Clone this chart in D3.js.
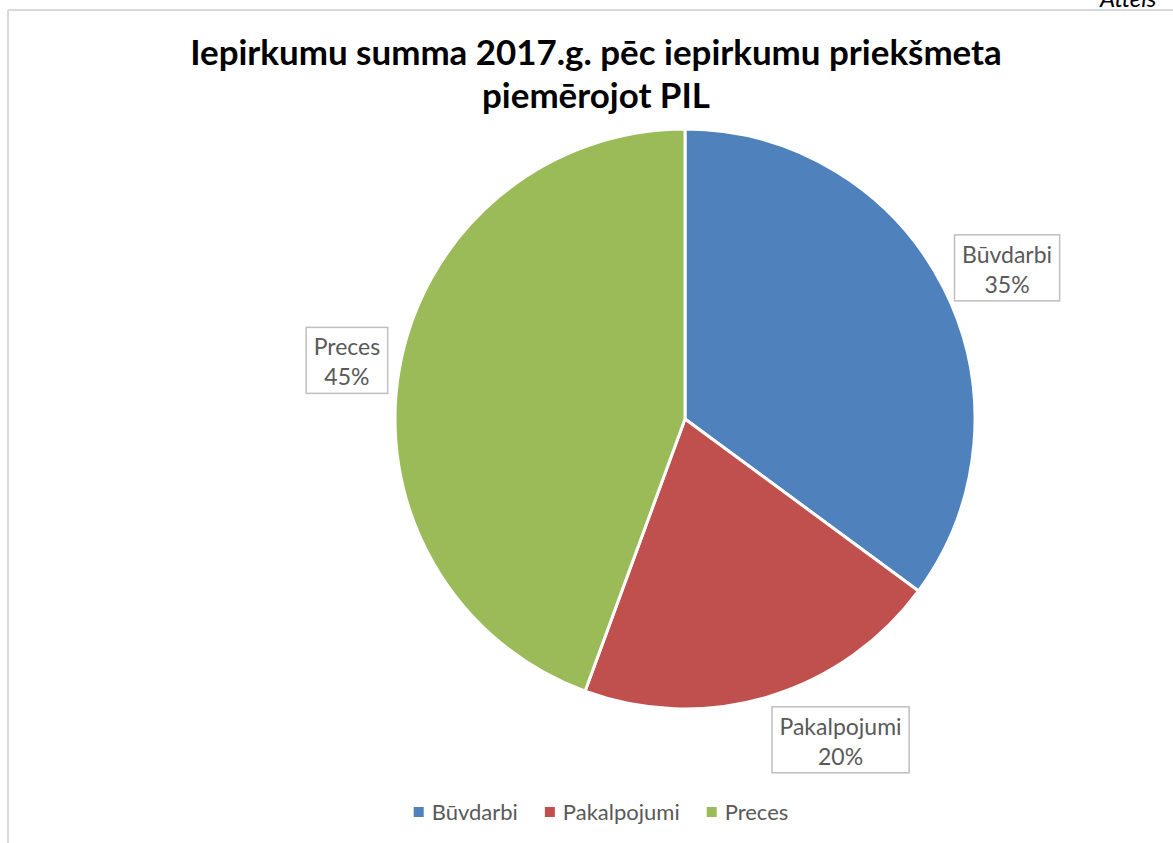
<!DOCTYPE html>
<html>
<head>
<meta charset="utf-8">
<script src="https://cdn.jsdelivr.net/npm/d3@7"></script>
<style>
  body { margin: 0; background: #fff; }
  text { font-family: Lato, "Open Sans", sans-serif; }
</style>
</head>
<body>
<div id="chart-area"></div>
<script>
// data
var categories = ["Būvdarbi", "Pakalpojumi", "Preces"];
var values = [35.1, 20.5, 44.4];
var percentLabels = ["35%", "20%", "45%"];
var colors = ["#4F81BD", "#C0504D", "#9BBB59"];
var titleLines = ["Iepirkumu summa 2017.g. pēc iepirkumu priekšmeta", "piemērojot PIL"];

var width = 1173, height = 843;
var cx = 685, cy = 419, radius = 290;

var svg = d3.select("#chart-area").append("svg")
    .attr("width", width)
    .attr("height", height);

// chart frame (only top and left edges visible)
svg.append("line")
    .attr("x1", 8).attr("y1", 10).attr("x2", width).attr("y2", 10)
    .attr("stroke", "#d9d9d9").attr("stroke-width", 2);
svg.append("line")
    .attr("x1", 8).attr("y1", 10).attr("x2", 8).attr("y2", height)
    .attr("stroke", "#d9d9d9").attr("stroke-width", 2);

// caption at top right, cut off by the page edge as in the picture
svg.append("text")
    .attr("x", 1100).attr("y", 7)
    .style("font-style", "italic")
    .style("font-size", "24px")
    .attr("fill", "#000")
    .text("Attēls");

// title
var title = svg.append("text")
    .attr("text-anchor", "middle")
    .attr("fill", "#000")
    .style("font-weight", "bold")
    .style("font-size", "32px");
title.selectAll("tspan").data(titleLines).enter().append("tspan")
    .attr("x", 596)
    .attr("y", (d, i) => 65 + i * 43)
    .text(d => d);
// fit first line to the width in the picture
var w0 = title.select("tspan").node().getComputedTextLength();
title.style("font-size", (32 * 812 / w0) + "px");

// pie
var pie = d3.pie().sort(null).value(d => d)
    .startAngle(0).endAngle(2 * Math.PI);
var arcs = pie(values);
var arc = d3.arc().innerRadius(0).outerRadius(radius);

var g = svg.append("g").attr("transform", "translate(" + cx + "," + cy + ")");

g.selectAll("path").data(arcs).enter().append("path")
    .attr("d", arc)
    .attr("fill", (d, i) => colors[i])
    .attr("stroke", "#fff")
    .attr("stroke-width", 3)
    .attr("stroke-linejoin", "round");

// data labels in boxes
var labelR = radius + 12;
var lineH = 30;
var labels = g.selectAll("g.lbl").data(arcs).enter().append("g").attr("class", "lbl");

labels.each(function(d, i) {
    var grp = d3.select(this);
    var a = (d.startAngle + d.endAngle) / 2;
    var ax = labelR * Math.sin(a), ay = -labelR * Math.cos(a);
    var rect = grp.append("rect")
        .attr("fill", "#fff")
        .attr("stroke", "#bfbfbf")
        .attr("stroke-width", 1.5);
    var t = grp.append("text")
        .attr("text-anchor", "middle")
        .attr("fill", "#595959")
        .style("font-size", "23px");
    var s1 = t.append("tspan").text(categories[i]);
    var s2 = t.append("tspan").text(percentLabels[i]);
    var tw = Math.max(s1.node().getComputedTextLength(), s2.node().getComputedTextLength());
    var bw = tw + 15, bh = 66;
    var left = Math.sin(a) >= 0 ? ax : ax - bw;
    var top = ay - bh / 2 - (bh / 2) * Math.cos(a);
    rect.attr("x", left).attr("y", top).attr("width", bw).attr("height", bh);
    t.selectAll("tspan")
        .attr("x", left + bw / 2)
        .attr("y", (s, j) => top + 28 + j * lineH);
});

// legend
var legend = svg.append("g");
var items = legend.selectAll("g").data(categories).enter().append("g");
items.append("rect")
    .attr("width", 10).attr("height", 10)
    .attr("y", 807)
    .attr("fill", (d, i) => colors[i]);
items.append("text")
    .attr("x", 18).attr("y", 820)
    .attr("fill", "#595959")
    .style("font-size", "22px")
    .text(d => d);
var xPos = 0;
items.each(function() {
    var it = d3.select(this);
    it.attr("transform", "translate(" + xPos + ",0)");
    xPos += 18 + it.select("text").node().getComputedTextLength() + 27;
});
var totalW = xPos - 27;
legend.attr("transform", "translate(" + (601 - totalW / 2) + ",0)");
</script>
</body>
</html>
